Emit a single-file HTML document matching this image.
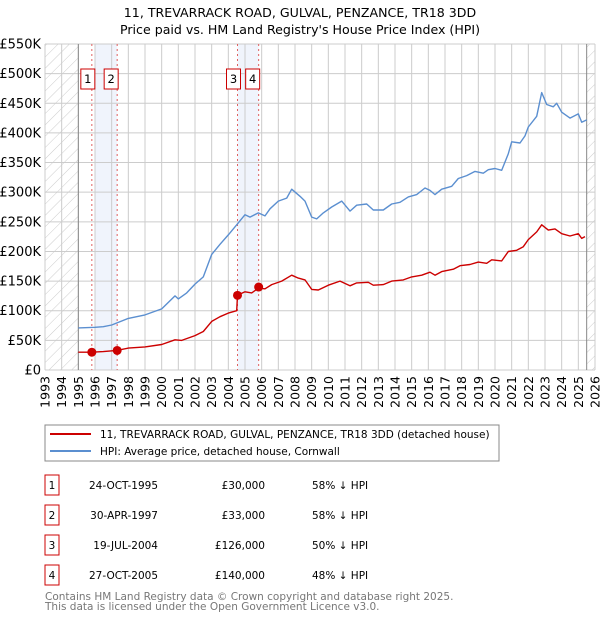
<!DOCTYPE html>
<html><head><meta charset="utf-8"><style>
body{margin:0;background:#fff;font-family:"DejaVu Sans","Liberation Sans",sans-serif;}
svg{display:block}
</style></head><body>
<svg id="c" width="600" height="620" xmlns="http://www.w3.org/2000/svg" font-family="DejaVu Sans, Liberation Sans, sans-serif">
<defs><pattern id="hatch" width="8" height="8" patternUnits="userSpaceOnUse" patternTransform="rotate(45)"><line x1="0" y1="0" x2="0" y2="8" stroke="#ccc" stroke-width="1"/></pattern></defs>
<text x="300" y="17" text-anchor="middle" font-size="12.6">11, TREVARRACK ROAD, GULVAL, PENZANCE, TR18 3DD</text>
<text x="300" y="34" text-anchor="middle" font-size="12.6">Price paid vs. HM Land Registry's House Price Index (HPI)</text>
<g id="plot"></g>
<rect x="45" y="425" width="454" height="36" fill="#fff" stroke="#888"/>
<line x1="50" y1="434" x2="91" y2="434" stroke="#cc0000" stroke-width="2"/>
<text x="100" y="438" font-size="10.5">11, TREVARRACK ROAD, GULVAL, PENZANCE, TR18 3DD (detached house)</text>
<line x1="50" y1="451" x2="91" y2="451" stroke="#5b8fd0" stroke-width="2"/>
<text x="100" y="455" font-size="10.5">HPI: Average price, detached house, Cornwall</text>
<g id="tbl" font-size="10.5"></g>
<text x="45" y="600" font-size="10.5" fill="#777">Contains HM Land Registry data © Crown copyright and database right 2025.</text>
<text x="45" y="610" font-size="10.5" fill="#777">This data is licensed under the Open Government Licence v3.0.</text>
</svg>
<script>
const hpiT=[1995.0,1996,1996.5,1997,1998,1999,2000,2000.8,2001.0,2001.5,2002,2002.5,2003,2003.5,2004,2004.5,2005,2005.3,2005.8,2006.2,2006.5,2007,2007.5,2007.8,2008.3,2008.6,2009,2009.3,2009.7,2010.2,2010.8,2011.3,2011.7,2012.3,2012.7,2013.3,2013.8,2014.3,2014.8,2015.3,2015.8,2016.1,2016.4,2016.8,2017.4,2017.8,2018.3,2018.8,2019.3,2019.6,2020.0,2020.4,2020.8,2021,2021.5,2021.8,2022,2022.5,2022.8,2023.1,2023.5,2023.7,2024.0,2024.5,2025,2025.2,2025.5];
const hpiV=[71,72,73,76,87,93,103,125,120,130,145,157,195,212,228,245,262,258,265,260,272,285,290,305,293,285,258,255,265,275,285,268,278,280,270,270,280,283,292,296,307,303,296,305,310,323,328,335,332,338,340,337,365,385,383,395,410,428,468,448,444,450,435,425,432,418,422];
const prT=[1995,1995.8,1996.5,1997.3,1998,1999,2000,2000.8,2001.2,2002,2002.5,2003,2003.5,2004,2004.5,2004.55,2005,2005.4,2005.8,2006.2,2006.6,2007.2,2007.8,2008.2,2008.6,2009,2009.4,2010,2010.7,2011.3,2011.7,2012.4,2012.7,2013.3,2013.8,2014.5,2015,2015.6,2016.1,2016.4,2016.8,2017.5,2017.9,2018.5,2019,2019.5,2019.8,2020.4,2020.8,2021.3,2021.7,2022,2022.5,2022.8,2023.2,2023.6,2024,2024.5,2025,2025.2,2025.4];
const prV=[30,30,31,33,37,39,43,51,50,58,65,82,90,96,100,126,132,130,138,137,144,150,160,155,152,136,135,143,150,142,147,148,143,144,150,152,157,160,165,160,166,170,176,178,182,180,186,184,200,202,208,220,233,245,236,238,230,226,230,222,225];
const saleLabels=["1","2","3","4"];
const saleT=[1995.81,1997.33,2004.55,2005.82];
const saleV=[30,33,126,140];
const saleDates=["24-OCT-1995","30-APR-1997","19-JUL-2004","27-OCT-2005"];
const salePrices=["£30,000","£33,000","£126,000","£140,000"];
const saleHpi=["58% ↓ HPI","58% ↓ HPI","50% ↓ HPI","48% ↓ HPI"];
const yTicks=[0,50,100,150,200,250,300,350,400,450,500,550];
const yTickLabels=["£0","£50K","£100K","£150K","£200K","£250K","£300K","£350K","£400K","£450K","£500K","£550K"];
const xYears=[1993,1994,1995,1996,1997,1998,1999,2000,2001,2002,2003,2004,2005,2006,2007,2008,2009,2010,2011,2012,2013,2014,2015,2016,2017,2018,2019,2020,2021,2022,2023,2024,2025,2026];

const NS="http://www.w3.org/2000/svg";
const X0=45,X1=595,Y0=370,Y1=44;
const xs=t=>X0+(t-1993)/(2026-1993)*(X1-X0);
const ys=v=>Y0-v/550*(Y0-Y1);
const g=document.getElementById('plot');
const tb=document.getElementById('tbl');
function mk(tag,attrs,parent){const e=document.createElementNS(NS,tag);for(const k in attrs)e.setAttribute(k,attrs[k]);(parent||g).appendChild(e);return e;}

let e=mk('rect',{x:X0,y:Y1,width:X1-X0,height:Y0-Y1,fill:'#fff'});


e=mk('rect',{x:xs(1996.0),y:Y1,width:xs(saleT[1])-xs(1996.0),height:Y0-Y1,fill:'#f0f4fc'});


e=mk('rect',{x:xs(saleT[2]),y:Y1,width:xs(saleT[3])-xs(saleT[2]),height:Y0-Y1,fill:'#f0f4fc'});


e=mk('rect',{x:X0,y:Y1,width:xs(1995)-X0,height:Y0-Y1,fill:'url(#hatch)'});


e=mk('rect',{x:xs(2025.5),y:Y1,width:X1-xs(2025.5),height:Y0-Y1,fill:'url(#hatch)'});



yTicks.forEach((v,i)=>{
  let l=mk('line',{x1:X0,x2:X1,y1:ys(v),y2:ys(v),stroke:'#ccc','stroke-width':1});
  
  
  let t=mk('text',{x:X0-4,y:ys(v)+4.5,'text-anchor':'end','font-size':13});
  t.textContent=yTickLabels[i];
  
  
});
xYears.forEach(yr=>{
  let l=mk('line',{x1:xs(yr),x2:xs(yr),y1:Y1,y2:Y0,stroke:'#ccc','stroke-width':1});
  
  
  let x=xs(yr)+4.5,y=Y0+6;
  let t=mk('text',{x:x,y:y,'text-anchor':'end','font-size':12.5,transform:`rotate(-90 ${x} ${y})`});
  t.textContent=yr;
  
  
});
e=mk('line',{x1:xs(1995),x2:xs(1995),y1:Y1,y2:Y0,stroke:'#888'});


e=mk('line',{x1:xs(2025.5),x2:xs(2025.5),y1:Y1,y2:Y0,stroke:'#888'});



saleT.forEach((t,i)=>{
  let l=mk('line',{x1:xs(t),x2:xs(t),y1:Y1,y2:Y0,stroke:'#e06060','stroke-dasharray':'2,3','stroke-width':1});
  
  
});

function path(T,V,col,name){
  const d=T.map((t,i)=>(i?'L':'M')+xs(t).toFixed(1)+','+ys(V[i]).toFixed(1)).join('');
  const p=mk('path',{d:d,fill:'none',stroke:col,'stroke-width':1.4,'stroke-linejoin':'round'});
  
  
}
path(hpiT,hpiV,'#5b8fd0','hpi-line');
path(prT,prV,'#cc0000','property-line');

saleT.forEach((t,i)=>{
  let c=mk('circle',{cx:xs(t),cy:ys(saleV[i]),r:4.5,fill:'#cc0000'});
  
  
  const bx=xs(t)+(i%2?-13:-11);
  let r=mk('rect',{x:bx,y:69,width:14,height:20,fill:'#fff',stroke:'#cc0000'});
  
  
  let lt=mk('text',{x:bx+7,y:83,'text-anchor':'middle','font-size':11.5});
  lt.textContent=saleLabels[i];
  
  

  const ry=475+i*30;
  let tr=mk('rect',{x:45,y:ry,width:14,height:20,fill:'#fff',stroke:'#cc0000'},tb);
  
  
  let tn=mk('text',{x:52,y:ry+14,'text-anchor':'middle'},tb);
  tn.textContent=saleLabels[i];
  
  
  let td=mk('text',{x:158,y:ry+14,'text-anchor':'end'},tb);
  td.textContent=saleDates[i];
  
  
  let tp=mk('text',{x:265,y:ry+14,'text-anchor':'end'},tb);
  tp.textContent=salePrices[i];
  
  
  let th=mk('text',{x:312,y:ry+14},tb);
  th.textContent=saleHpi[i];
  
  
});
</script>
</body></html>
